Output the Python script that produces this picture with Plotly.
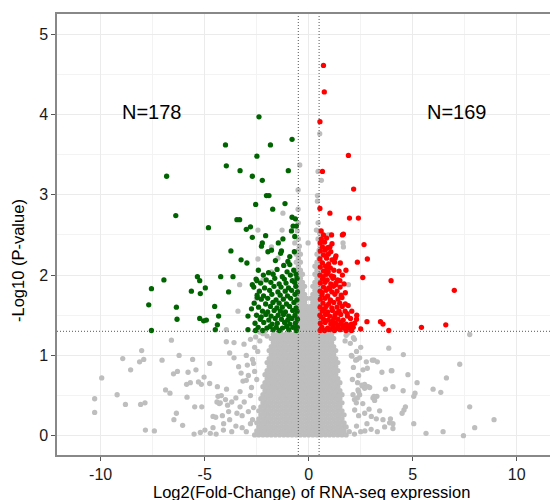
import plotly.graph_objects as go

# ---------------- data ----------------
# significant down-regulated (green)
down_x = [-2.39, -4.0, -1.84, -0.80, -2.49, -3.96, -6.83, -3.30, -2.71, -2.23, -0.98, -2.03, -1.91,
          -2.55, -1.73, -1.14, -6.39, -4.82, -3.45, -3.32, -3.0, -2.8, -2.71, -2.07, -2.23, -2.27,
          -1.24, -0.80, -0.64, -0.75, -0.59, -0.83, -0.67, -3.74, -3.25, -2.97, -1.96, -1.31, -1.79,
          -1.35, -0.69, -0.91, -1.0, -0.91, -5.35, -5.24, -6.96, -4.23, -3.64, -7.56, -5.64, -5.21,
          -4.97, -3.85, -7.69, -6.36, -4.52, -6.33, -5.24, -5.05, -4.92, -4.33, -4.39, -7.56, -4.49,
          -2.92, -2.92, -2.71, -2.49, -2.47, -2.28, -1.46, -1.60,
          -2.42, -1.93, -1.52, -1.04, -0.72,
          -2.18, -1.71, -1.27, -0.88, -0.61,
          -2.53, -2.04, -1.63, -1.17, -0.79, -0.56,
          -2.31, -1.82, -1.42, -1.09, -0.68,
          -2.64, -2.12, -1.67, -1.33, -0.97, -0.62,
          -2.37, -1.88, -1.48, -1.13, -0.82, -0.54,
          -2.48, -2.17, -1.77, -1.37, -1.02, -0.66,
          -2.28, -1.97, -1.57, -1.22, -0.87, -0.57,
          -2.62, -2.07, -1.72, -1.42, -1.07, -0.71,
          -2.41, -1.84, -1.53, -1.27, -0.92, -0.61,
          -2.22, -1.97, -1.66, -1.36, -1.12, -0.77, -0.56,
          -2.51, -2.06, -1.81, -1.47, -1.21, -0.96, -0.66,
          -2.33, -1.92, -1.61, -1.31, -1.01, -0.81, -0.54,
          -2.58, -2.16, -1.76, -1.51, -1.16, -0.91, -0.64,
          -2.43, -2.01, -1.86, -1.56, -1.26, -1.06, -0.76, -0.55,
          -2.56, -2.21, -1.71, -1.41, -0.96, -0.6, -2.75, -1.2]
down_y = [3.97, 3.62, 3.62, 3.69, 3.48, 3.36, 3.23, 3.30, 3.23, 3.18, 3.30, 2.99, 2.99,
          2.88, 2.82, 2.89, 2.74, 2.59, 2.69, 2.69, 2.57, 2.60, 2.47, 2.49, 2.40, 2.36,
          2.45, 2.72, 2.70, 2.61, 2.61, 2.55, 2.48, 2.30, 2.19, 2.15, 2.29, 2.30, 2.31,
          2.27, 2.29, 2.23, 2.17, 2.13, 1.98, 1.93, 1.94, 1.98, 1.98, 1.83, 1.80, 1.77,
          1.84, 1.79, 1.63, 1.60, 1.61, 1.45, 1.46, 1.43, 1.44, 1.49, 1.38, 1.31, 1.32,
          1.49, 1.32, 1.88, 1.93, 1.72, 1.48, 2.40, 2.18,
          2.06, 2.03, 2.07, 2.04, 2.06,
          2.00, 2.01, 1.98, 2.00, 2.01,
          1.95, 1.94, 1.96, 1.95, 1.93, 1.96,
          1.90, 1.91, 1.89, 1.90, 1.91,
          1.85, 1.84, 1.86, 1.85, 1.84, 1.86,
          1.80, 1.81, 1.79, 1.80, 1.81, 1.79,
          1.75, 1.74, 1.76, 1.75, 1.74, 1.76,
          1.70, 1.71, 1.69, 1.70, 1.71, 1.69,
          1.65, 1.64, 1.66, 1.65, 1.64, 1.66,
          1.60, 1.61, 1.59, 1.60, 1.61, 1.59,
          1.55, 1.54, 1.56, 1.55, 1.54, 1.56, 1.55,
          1.50, 1.51, 1.49, 1.50, 1.51, 1.49, 1.50,
          1.45, 1.44, 1.46, 1.45, 1.44, 1.46, 1.45,
          1.40, 1.41, 1.39, 1.40, 1.41, 1.39, 1.40,
          1.35, 1.34, 1.36, 1.35, 1.34, 1.36, 1.35, 1.35,
          1.31, 1.31, 1.32, 1.31, 1.32, 1.31, 1.58, 2.12]

# significant up-regulated (red)
up_x = [0.71, 0.75, 0.54, 1.91, 0.66, 2.16, 0.54, 1.02, 1.96, 2.39, 1.67, 1.62, 0.71, 2.66,
        1.02, 2.82, 2.34, 1.27, 1.79, 2.60, 3.96, 7.0, 1.39, 1.70, 1.76, 1.75, 2.07, 2.31,
        2.80, 3.45, 3.57, 3.85, 5.42, 6.59, 2.05, 1.65, 1.89,
        0.61, 0.86,
        0.55, 0.76, 1.12,
        0.66, 0.91,
        0.56, 0.79, 1.06,
        0.71, 0.94, 1.31,
        0.54, 0.86, 1.12,
        0.66, 0.96, 1.24, 1.52,
        0.56, 0.81, 1.04,
        0.71, 0.94, 1.21, 1.46,
        0.54, 0.86, 1.09, 1.62,
        0.66, 0.89, 1.16,
        0.56, 0.79, 1.06, 1.31,
        0.71, 0.96, 1.19, 1.51,
        0.55, 0.84, 1.11, 1.36,
        0.64, 0.91, 1.26, 1.56,
        0.56, 0.79, 1.04, 1.41,
        0.69, 0.96, 1.21, 1.49, 1.76,
        0.55, 0.84, 1.11, 1.36, 1.61,
        0.66, 0.91, 1.14, 1.46,
        0.54, 0.81, 1.01, 1.26, 1.54, 1.86,
        0.71, 0.94, 1.21, 1.41, 1.66, 2.01,
        0.56, 0.79, 1.06, 1.29, 1.56, 1.81, 2.21,
        0.64, 0.91, 1.16, 1.39, 1.71, 1.96, 2.14,
        0.55, 0.76, 1.01, 1.24, 1.51, 1.79, 2.06,
        0.6, 0.95, 1.3, 1.7, 1.45, 1.15, 0.8, 0.6, 1.35, 1.9,
        0.75, 1.05, 1.6, 0.65, 1.0, 1.3, 0.7, 1.2, 0.9, 1.5,
        2.3, 2.5, 1.85, 0.6, 1.1]
up_y = [4.61, 4.28, 3.91, 3.49, 3.29, 3.07, 2.83, 2.77, 2.71, 2.71, 2.51, 2.50, 2.50, 2.38,
        2.35, 2.20, 2.16, 2.21, 2.06, 1.97, 1.93, 1.81, 1.94, 1.89, 1.78, 1.55, 1.55, 1.50,
        1.42, 1.42, 1.39, 1.31, 1.35, 1.38, 1.39, 1.36, 1.34,
        2.45, 2.46,
        2.40, 2.41, 2.39,
        2.35, 2.34,
        2.30, 2.31, 2.29,
        2.25, 2.26, 2.24,
        2.20, 2.21, 2.19,
        2.15, 2.14, 2.16, 2.15,
        2.10, 2.11, 2.09,
        2.05, 2.04, 2.06, 2.05,
        2.00, 2.01, 1.99, 2.00,
        1.95, 1.94, 1.96,
        1.90, 1.91, 1.89, 1.90,
        1.85, 1.84, 1.86, 1.85,
        1.80, 1.81, 1.79, 1.80,
        1.75, 1.74, 1.76, 1.75,
        1.70, 1.71, 1.69, 1.70,
        1.65, 1.64, 1.66, 1.65, 1.64,
        1.60, 1.61, 1.59, 1.60, 1.61,
        1.55, 1.54, 1.56, 1.55,
        1.50, 1.51, 1.49, 1.50, 1.51, 1.49,
        1.45, 1.44, 1.46, 1.45, 1.44, 1.46,
        1.40, 1.41, 1.39, 1.40, 1.41, 1.39, 1.40,
        1.35, 1.34, 1.36, 1.35, 1.34, 1.36, 1.35,
        1.31, 1.31, 1.32, 1.31, 1.32, 1.31, 1.31,
        1.33, 1.33, 1.33, 1.37, 1.38, 1.43, 1.43, 1.48, 1.53, 1.62,
        1.58, 1.68, 1.72, 1.78, 1.83, 1.88, 1.98, 1.98, 2.08, 1.93,
        1.45, 1.33, 1.52, 2.55, 2.5]

# non-significant genes (grey): dense core, listed row by row
core_row_y = [0.01, 0.06, 0.11, 0.16, 0.21, 0.26, 0.31, 0.36, 0.41, 0.46, 0.51, 0.56, 0.61,
              0.66, 0.71, 0.76, 0.81, 0.86, 0.91, 0.96, 1.01, 1.06, 1.11, 1.16, 1.21, 1.26]
core_row_x = [
    [-2.6, -2.4, -2.2, -2.0, -1.8, -1.6, -1.4, -1.2, -1.0, -0.8, -0.6, -0.4, -0.2, 0.0, 0.2, 0.4, 0.6, 0.8, 1.0, 1.2, 1.4, 1.6, 1.8],
    [-2.5, -2.3, -2.1, -1.9, -1.7, -1.5, -1.3, -1.1, -0.9, -0.7, -0.5, -0.3, -0.1, 0.1, 0.3, 0.5, 0.7, 0.9, 1.1, 1.3, 1.5, 1.7],
    [-2.4, -2.2, -2.0, -1.8, -1.6, -1.4, -1.2, -1.0, -0.8, -0.6, -0.4, -0.2, 0.0, 0.2, 0.4, 0.6, 0.8, 1.0, 1.2, 1.4, 1.6, 1.8],
    [-2.5, -2.3, -2.1, -1.9, -1.7, -1.5, -1.3, -1.1, -0.9, -0.7, -0.5, -0.3, -0.1, 0.1, 0.3, 0.5, 0.7, 0.9, 1.1, 1.3, 1.5, 1.7],
    [-2.4, -2.2, -2.0, -1.8, -1.6, -1.4, -1.2, -1.0, -0.8, -0.6, -0.4, -0.2, 0.0, 0.2, 0.4, 0.6, 0.8, 1.0, 1.2, 1.4, 1.6],
    [-2.3, -2.1, -1.9, -1.7, -1.5, -1.3, -1.1, -0.9, -0.7, -0.5, -0.3, -0.1, 0.1, 0.3, 0.5, 0.7, 0.9, 1.1, 1.3, 1.5, 1.7],
    [-2.4, -2.2, -2.0, -1.8, -1.6, -1.4, -1.2, -1.0, -0.8, -0.6, -0.4, -0.2, 0.0, 0.2, 0.4, 0.6, 0.8, 1.0, 1.2, 1.4, 1.6],
    [-2.3, -2.1, -1.9, -1.7, -1.5, -1.3, -1.1, -0.9, -0.7, -0.5, -0.3, -0.1, 0.1, 0.3, 0.5, 0.7, 0.9, 1.1, 1.3, 1.5],
    [-2.2, -2.0, -1.8, -1.6, -1.4, -1.2, -1.0, -0.8, -0.6, -0.4, -0.2, 0.0, 0.2, 0.4, 0.6, 0.8, 1.0, 1.2, 1.4, 1.6],
    [-2.3, -2.1, -1.9, -1.7, -1.5, -1.3, -1.1, -0.9, -0.7, -0.5, -0.3, -0.1, 0.1, 0.3, 0.5, 0.7, 0.9, 1.1, 1.3, 1.5],
    [-2.2, -2.0, -1.8, -1.6, -1.4, -1.2, -1.0, -0.8, -0.6, -0.4, -0.2, 0.0, 0.2, 0.4, 0.6, 0.8, 1.0, 1.2, 1.4, 1.6],
    [-2.1, -1.9, -1.7, -1.5, -1.3, -1.1, -0.9, -0.7, -0.5, -0.3, -0.1, 0.1, 0.3, 0.5, 0.7, 0.9, 1.1, 1.3, 1.5],
    [-2.2, -2.0, -1.8, -1.6, -1.4, -1.2, -1.0, -0.8, -0.6, -0.4, -0.2, 0.0, 0.2, 0.4, 0.6, 0.8, 1.0, 1.2, 1.4],
    [-2.1, -1.9, -1.7, -1.5, -1.3, -1.1, -0.9, -0.7, -0.5, -0.3, -0.1, 0.1, 0.3, 0.5, 0.7, 0.9, 1.1, 1.3, 1.5],
    [-2.0, -1.8, -1.6, -1.4, -1.2, -1.0, -0.8, -0.6, -0.4, -0.2, 0.0, 0.2, 0.4, 0.6, 0.8, 1.0, 1.2, 1.4],
    [-2.1, -1.9, -1.7, -1.5, -1.3, -1.1, -0.9, -0.7, -0.5, -0.3, -0.1, 0.1, 0.3, 0.5, 0.7, 0.9, 1.1, 1.3],
    [-2.0, -1.8, -1.6, -1.4, -1.2, -1.0, -0.8, -0.6, -0.4, -0.2, 0.0, 0.2, 0.4, 0.6, 0.8, 1.0, 1.2, 1.4],
    [-1.9, -1.7, -1.5, -1.3, -1.1, -0.9, -0.7, -0.5, -0.3, -0.1, 0.1, 0.3, 0.5, 0.7, 0.9, 1.1, 1.3],
    [-2.0, -1.8, -1.6, -1.4, -1.2, -1.0, -0.8, -0.6, -0.4, -0.2, 0.0, 0.2, 0.4, 0.6, 0.8, 1.0, 1.2, 1.4],
    [-1.9, -1.7, -1.5, -1.3, -1.1, -0.9, -0.7, -0.5, -0.3, -0.1, 0.1, 0.3, 0.5, 0.7, 0.9, 1.1, 1.3],
    [-1.8, -1.6, -1.4, -1.2, -1.0, -0.8, -0.6, -0.4, -0.2, 0.0, 0.2, 0.4, 0.6, 0.8, 1.0, 1.2],
    [-1.9, -1.7, -1.5, -1.3, -1.1, -0.9, -0.7, -0.5, -0.3, -0.1, 0.1, 0.3, 0.5, 0.7, 0.9, 1.1, 1.3],
    [-1.8, -1.6, -1.4, -1.2, -1.0, -0.8, -0.6, -0.4, -0.2, 0.0, 0.2, 0.4, 0.6, 0.8, 1.0, 1.2],
    [-1.7, -1.5, -1.3, -1.1, -0.9, -0.7, -0.5, -0.3, -0.1, 0.1, 0.3, 0.5, 0.7, 0.9, 1.1],
    [-1.8, -1.6, -1.4, -1.2, -1.0, -0.8, -0.6, -0.4, -0.2, 0.0, 0.2, 0.4, 0.6, 0.8, 1.0, 1.2],
    [-1.7, -1.5, -1.3, -1.1, -0.9, -0.7, -0.5, -0.3, -0.1, 0.1, 0.3, 0.5, 0.7, 0.9, 1.1],
]

# grey genes between the fold-change cut-offs, above the p-value line
tower_row_y = [1.31, 1.36, 1.41, 1.46, 1.51, 1.56, 1.61, 1.66, 1.71, 1.76, 1.81, 1.86, 1.91,
               1.96, 2.01, 2.06, 2.11, 2.16, 2.21, 2.26, 2.31, 2.36, 2.45, 2.55, 2.65]
tower_row_x = [
    [-0.5, -0.3, -0.1, 0.1, 0.3, 0.5],
    [-0.6, -0.4, -0.2, 0.0, 0.2, 0.4, 0.6],
    [-0.5, -0.3, -0.1, 0.1, 0.3, 0.5],
    [-0.6, -0.4, -0.2, 0.0, 0.2, 0.4, 0.6],
    [-0.5, -0.3, -0.1, 0.1, 0.3, 0.5],
    [-0.6, -0.4, -0.2, 0.0, 0.2, 0.4, 0.6],
    [-0.5, -0.3, -0.1, 0.1, 0.3, 0.5],
    [-0.6, -0.4, -0.2, 0.2, 0.4, 0.6],
    [-0.5, -0.3, -0.1, 0.1, 0.3, 0.5],
    [-0.6, -0.4, -0.2, 0.2, 0.4, 0.6],
    [-0.5, -0.3, 0.3, 0.5],
    [-0.6, -0.4, -0.2, 0.2, 0.4, 0.6],
    [-0.5, -0.3, 0.3, 0.5],
    [-0.6, -0.4, 0.4, 0.6],
    [-0.5, -0.3, 0.3, 0.5],
    [-0.6, -0.4, 0.4, 0.6],
    [-0.5, 0.3, 0.5],
    [-0.6, -0.4, 0.4, 0.6],
    [-0.5, 0.5],
    [-0.6, -0.4, 0.4, 0.6],
    [-0.5, 0.5],
    [-0.45, 0.55],
    [-0.5, 0.45],
    [-0.55, 0.5],
    [-0.5, 0.45],
]

# scattered grey genes
scatter_x = [-0.51, 0.42, 0.42, -0.51, 0.61, 0.45, -0.43, 0.53, -0.03, 0.37, 0.53, 0.93, -0.67,
             -1.24, -1.28, -2.44, -1.79, -1.48, -2.44, -3.32, -2.51, -3.40, -2.20, -1.79, -3.96,
             1.67, 1.02, 1.91, 1.65,
             -6.60, -8.03, -8.94, -8.13, -7.93, -8.56, -9.95, -7.05, -6.23, -5.58, -4.76, -6.5,
             -6.31, -5.80, -5.42, -5.03, -5.87, -5.69, -5.30, -4.76, -4.39, -6.88, -6.67, -9.21,
             -10.29, -8.81, -8.08, -7.87, -5.85, -5.48, -5.14, -10.29, -6.36, -6.48, -6.06, -7.85,
             -7.42, -5.51, -5.21, -4.99, -4.73, -4.60, -4.47, -4.41, -4.09, -5.16, -4.36, -4.25,
             -3.96, -3.59, -3.11, -3.80, -3.59, -3.37, -3.16, -3.0,
             -4.2, -4.0, -3.7, -3.5, -4.3, -3.9, -3.3, -3.8, -3.5, -3.2, -3.0, -3.7, -4.1, -2.9,
             -2.8, -2.9, -2.7, -2.8, -2.6, -3.0, -2.75, -2.65, -2.8, -3.3, -3.1, -3.45, -2.95,
             -3.25, -2.6, -2.7, -3.2, -2.55, -2.65, -2.45, -2.35, -2.5, -4.6, -4.45, -3.95,
             -2.2, -2.0, -2.35, -2.1, -3.85, -4.15,
             7.74, 3.85, 4.55, 7.26, 2.77, 3.14, 3.30, 2.32, 3.52, 4.0, 4.77, 5.21, 6.62, 5.98,
             6.35, 2.69, 2.58, 2.93, 3.69, 4.05, 4.54, 5.05, 5.11, 2.40, 2.13, 3.09, 3.28, 3.17,
             4.65, 4.58, 4.49, 3.41, 7.74, 8.91, 7.98, 7.44, 6.46, 5.64, 5.05, 3.93, 3.57, 3.25,
             4.05, 4.05, 3.65,
             2.08, 2.26, 2.45, 2.61, 2.82, 3.06, 3.97, 2.56, 2.69, 2.85, 2.37, 2.45, 2.34, 3.14,
             2.29, 2.21, 2.69, 3.01, 3.89, 2.2, 2.5, 2.3, 2.15, 2.4, 2.2, 2.6, 2.8, 2.3, 2.5,
             2.2, 2.7, 3.0, 2.9, 3.3, 2.1, 2.4, 2.0, 2.15, 1.9, 1.8, 1.75, 2.05, 2.35, 1.95]
scatter_y = [2.82, 2.92, 2.99, 3.06, 3.18, 3.29, 3.37, 3.76, 2.40, 2.56, 2.52, 2.50, 2.40,
             2.77, 2.56, 2.56, 2.35, 2.21, 2.20, 1.88, 1.71, 1.55, 1.94, 2.04, 1.32,
             2.35, 2.50, 1.88, 2.40,
             1.19, 1.06, 0.96, 0.92, 0.95, 0.82, 0.72, 0.94, 1.00, 0.95, 0.90, 0.77,
             0.80, 0.79, 0.82, 0.73, 0.64, 0.66, 0.67, 0.65, 0.61, 0.57, 0.53, 0.51,
             0.46, 0.39, 0.39, 0.41, 0.48, 0.36, 0.36, 0.29, 0.28, 0.20, 0.13, 0.07,
             0.06, 0.02, 0.04, 0.07, 0.03, 0.24, 0.23, 0.42, 0.15, 0.64, 0.49, 0.41,
             1.17, 1.16, 1.14, 1.03, 0.97, 0.86, 0.68, 0.69,
             0.50, 0.45, 0.42, 0.47, 0.40, 0.38, 0.36, 0.20, 0.12, 0.25, 0.05, 0.05, 0.07, 0.30,
             0.50, 0.75, 0.95, 1.20, 1.10, 1.00, 0.60, 0.35, 0.15, 0.55, 0.42, 0.28, 0.88,
             0.78, 0.80, 0.20, 0.10, 1.23, 0.90, 1.05, 1.18, 0.70, 0.10, 0.02, 0.58,
             1.27, 1.24, 1.29, 1.30, 0.30, 0.25,
             1.26, 1.09, 1.01, 0.89, 0.92, 0.94, 0.92, 0.95, 0.79, 0.81, 0.76, 0.66, 0.72, 0.58,
             0.54, 0.64, 0.62, 0.60, 0.58, 0.61, 0.56, 0.49, 0.53, 0.55, 0.51, 0.47, 0.49, 0.44,
             0.36, 0.32, 0.28, 0.31, 0.36, 0.20, 0.10, 0.00, 0.05, 0.03, 0.15, 0.21, 0.20, 0.21,
             0.15, 0.09, 0.11,
             0.99, 0.94, 0.97, 0.82, 0.84, 0.94, 0.81, 0.63, 0.59, 0.61, 0.57, 0.51, 0.47, 0.49,
             0.41, 0.32, 0.28, 0.24, 0.16, 1.20, 1.10, 1.05, 0.85, 0.75, 0.45, 0.40, 0.15, 0.12,
             0.05, 0.02, 0.06, 0.08, 0.33, 0.05, 0.70, 0.25, 1.15, 1.22, 1.28, 1.25, 1.18, 1.00, 0.66, 0.05]

x_ticks = [-10, -5, 0, 5, 10]
y_ticks = [0, 1, 2, 3, 4, 5]
fc_cut = 0.5
p_cut = 1.3
label_down = "N=178"
label_up = "N=169"

# ---------------- assemble grey points ----------------
grey_x, grey_y = [], []
for yv, xs in zip(core_row_y, core_row_x):
    grey_x += xs
    grey_y += [yv] * len(xs)
for yv, xs in zip(tower_row_y, tower_row_x):
    grey_x += xs
    grey_y += [yv] * len(xs)
grey_x += scatter_x
grey_y += scatter_y

GREY = "#BEBEBE"
GREEN = "#006400"
RED = "#FF0000"
MS = 5.3

fig = go.Figure()
fig.add_trace(go.Scatter(x=grey_x, y=grey_y, mode="markers",
                         marker=dict(color=GREY, size=MS, line=dict(width=0)),
                         showlegend=False, hoverinfo="skip"))
fig.add_trace(go.Scatter(x=down_x, y=down_y, mode="markers",
                         marker=dict(color=GREEN, size=MS, line=dict(width=0)),
                         showlegend=False))
fig.add_trace(go.Scatter(x=up_x, y=up_y, mode="markers",
                         marker=dict(color=RED, size=MS, line=dict(width=0)),
                         showlegend=False))

line_style = dict(color="#555555", width=1, dash="1px,2px")
fig.add_shape(type="line", xref="paper", yref="y", x0=0, x1=1, y0=p_cut, y1=p_cut, line=line_style)
fig.add_shape(type="line", xref="x", yref="paper", x0=-fc_cut, x1=-fc_cut, y0=0, y1=1, line=line_style)
fig.add_shape(type="line", xref="x", yref="paper", x0=fc_cut, x1=fc_cut, y0=0, y1=1, line=line_style)

FONT = "Liberation Sans, Arial, sans-serif"
fig.add_annotation(x=-7.55, y=4.03, text=label_down, showarrow=False,
                   font=dict(family=FONT, size=20, color="black"))
fig.add_annotation(x=7.15, y=4.03, text=label_up, showarrow=False,
                   font=dict(family=FONT, size=20, color="black"))
fig.add_annotation(xref="paper", yref="paper", x=0.517, y=-0.084, yanchor="middle",
                   text="Log2(Fold-Change) of RNA-seq expression", showarrow=False,
                   font=dict(family=FONT, size=16.5, color="black"))
fig.add_annotation(xref="paper", yref="paper", x=-0.079, y=0.44, xanchor="center", yanchor="middle",
                   textangle=-90, text="-Log10 (P-value)", showarrow=False,
                   font=dict(family=FONT, size=16.5, color="black"))

fig.update_layout(
    width=550, height=500,
    margin=dict(l=57, r=0, t=14, b=45),
    paper_bgcolor="white", plot_bgcolor="white",
    font=dict(family=FONT, size=16, color="black"),
)
fig.update_xaxes(range=[-12.1, 11.6], tickvals=x_ticks, ticktext=[str(v) for v in x_ticks],
                 showgrid=True, gridcolor="#EBEBEB", gridwidth=1.2,
                 minor=dict(dtick=2.5, tick0=0, showgrid=True, gridcolor="#F3F3F3", gridwidth=0.8),
                 zeroline=False, showline=True, linecolor="#888888", linewidth=1.5, mirror=True,
                 ticks="outside", ticklen=4, tickcolor="#555555", tickfont=dict(size=16, color="#1a1a1a"))
fig.update_yaxes(range=[-0.24, 5.25], tickvals=y_ticks, ticktext=[str(v) for v in y_ticks],
                 showgrid=True, gridcolor="#EBEBEB", gridwidth=1.2,
                 minor=dict(dtick=0.5, tick0=0, showgrid=True, gridcolor="#F3F3F3", gridwidth=0.8),
                 zeroline=False, showline=True, linecolor="#888888", linewidth=1.5,
                 ticks="outside", ticklen=4, tickcolor="#555555", tickfont=dict(size=16, color="#1a1a1a"))

fig.write_html("out.html", config={"displayModeBar": False},
               post_script="document.body.style.margin='0px';document.body.style.overflow='hidden';")
